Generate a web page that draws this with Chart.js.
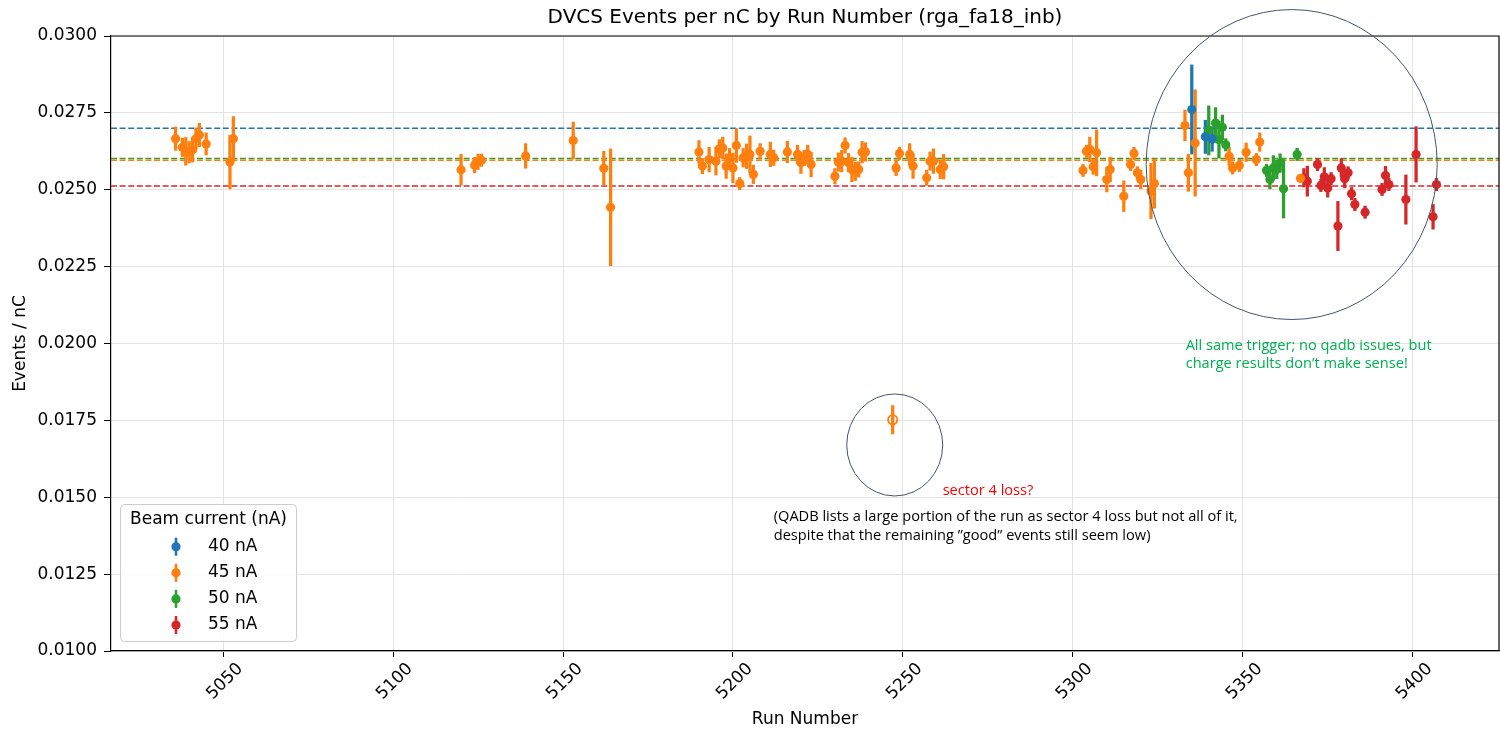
<!DOCTYPE html>
<html>
<head>
<meta charset="utf-8">
<script src="https://cdn.jsdelivr.net/npm/chart.js@4.4.0/dist/chart.umd.min.js"></script>
<style>
	html, body { margin: 0; padding: 0; background: #fff; overflow: hidden; }
	#wrap { width: 1500px; height: 734px; }
	canvas { display: block; }
</style>
</head>
<body>
<div id="wrap"><canvas id="chart" width="1500" height="734"></canvas></div>
<script>
// axis ticks
const xTicks = [5050, 5100, 5150, 5200, 5250, 5300, 5350, 5400];
const yTicks = [0.0100, 0.0125, 0.0150, 0.0175, 0.0200, 0.0225, 0.0250, 0.0275, 0.0300];

const currents = ["40 nA", "45 nA", "50 nA", "55 nA"];
const colors = ["#1f77b4", "#ff7f0e", "#2ca02c", "#d62728"];
const meanValues = [0.02700, 0.02596, 0.02602, 0.02512];

// 40 nA
const runs40 = [5335, 5339, 5341];
const vals40 = [0.02761, 0.02672, 0.02665];
const errs40 = [0.00145, 0.00054, 0.00040];

// 45 nA
const runs45 = [5036, 5038, 5039, 5040, 5041, 5042, 5043, 5045, 5052, 5053,
	5120, 5124, 5125, 5126, 5139, 5153, 5162, 5164,
	5190, 5191, 5193, 5195, 5196, 5197, 5198, 5199, 5200, 5201, 5202, 5203, 5204, 5205, 5206, 5208,
	5211, 5212, 5216, 5219, 5220, 5221, 5222, 5223, 5230, 5231, 5232, 5233, 5234, 5235, 5236, 5237,
	5238, 5239, 5248, 5249, 5252, 5253, 5257, 5258, 5259, 5261, 5262,
	5303, 5304, 5305, 5306, 5307, 5310, 5311, 5315, 5317, 5318, 5319, 5320, 5323, 5324,
	5333, 5334, 5336, 5346, 5347, 5349, 5351, 5354, 5355, 5367];
const vals45 = [0.02666, 0.02638, 0.02625, 0.02622, 0.02630, 0.02666, 0.02678, 0.02649, 0.02590, 0.02666,
	0.02565, 0.02580, 0.02591, 0.02596, 0.02610, 0.02660, 0.02570, 0.02443,
	0.02623, 0.02577, 0.02598, 0.02593, 0.02633, 0.02636, 0.02577, 0.02604, 0.02571, 0.02644, 0.02520, 0.02604, 0.02609, 0.02615, 0.02550, 0.02625,
	0.02615, 0.02604, 0.02623, 0.02615, 0.02588, 0.02604, 0.02615, 0.02582, 0.02544, 0.02590, 0.02593, 0.02644, 0.02588, 0.02566, 0.02560, 0.02566,
	0.02622, 0.02623, 0.02571, 0.02618, 0.02615, 0.02577, 0.02539, 0.02593, 0.02593, 0.02566, 0.02575,
	0.02563, 0.02625, 0.02631, 0.02575, 0.02620, 0.02533, 0.02566, 0.02479, 0.02582, 0.02618, 0.02555, 0.02533, 0.02496, 0.02520,
	0.02709, 0.02555, 0.02652, 0.02609, 0.02571, 0.02579, 0.02622, 0.02598, 0.02655, 0.02537];
const errs45 = [0.00038, 0.00030, 0.00045, 0.00035, 0.00040, 0.00035, 0.00038, 0.00036, 0.00087, 0.00072,
	0.00050, 0.00025, 0.00025, 0.00020, 0.00040, 0.00060, 0.00055, 0.00190,
	0.00037, 0.00025, 0.00040, 0.00045, 0.00030, 0.00035, 0.00040, 0.00030, 0.00048, 0.00055, 0.00020, 0.00030, 0.00040, 0.00060, 0.00030, 0.00025,
	0.00040, 0.00025, 0.00035, 0.00030, 0.00035, 0.00025, 0.00030, 0.00040, 0.00025, 0.00030, 0.00035, 0.00025, 0.00030, 0.00040, 0.00030, 0.00025,
	0.00035, 0.00030, 0.00025, 0.00020, 0.00035, 0.00040, 0.00025, 0.00030, 0.00040, 0.00030, 0.00040,
	0.00020, 0.00020, 0.00040, 0.00025, 0.00075, 0.00040, 0.00040, 0.00050, 0.00020, 0.00020, 0.00020, 0.00030, 0.00090, 0.00080,
	0.00050, 0.00060, 0.00173, 0.00030, 0.00020, 0.00020, 0.00030, 0.00020, 0.00030, 0.00010];

// 50 nA
const runs50 = [5340, 5342, 5343, 5344, 5345, 5357, 5358, 5359, 5360, 5361, 5362, 5366];
const vals50 = [0.02693, 0.02717, 0.02663, 0.02703, 0.02646, 0.02563, 0.02533, 0.02571, 0.02566, 0.02587, 0.02503, 0.02615];
const errs50 = [0.00080, 0.00050, 0.00060, 0.00040, 0.00020, 0.00020, 0.00030, 0.00040, 0.00030, 0.00030, 0.00095, 0.00020];

// 55 nA
const runs55 = [5368, 5369, 5372, 5373, 5374, 5375, 5376, 5378, 5379, 5380, 5381, 5382, 5383, 5386,
	5391, 5392, 5393, 5398, 5401, 5406, 5407];
const vals55 = [0.02539, 0.02528, 0.02582, 0.02514, 0.02542, 0.02506, 0.02536, 0.02382, 0.02571, 0.02536, 0.02555, 0.02487, 0.02452, 0.02427,
	0.02501, 0.02546, 0.02517, 0.02468, 0.02615, 0.02412, 0.02517];
const errs55 = [0.00030, 0.00049, 0.00020, 0.00020, 0.00030, 0.00030, 0.00020, 0.00080, 0.00030, 0.00030, 0.00020, 0.00020, 0.00020, 0.00020,
	0.00020, 0.00030, 0.00020, 0.00080, 0.00090, 0.00040, 0.00020];

// flagged run (open marker)
const flaggedRun = [5247];
const flaggedVal = [0.01752];
const flaggedErr = [0.00046];

const xMin = 5017, xMax = 5425.4;

const series = [
	[runs40, vals40, errs40],
	[runs45, vals45, errs45],
	[runs50, vals50, errs50],
	[runs55, vals55, errs55],
];

const font = "DejaVu Sans";

let datasets = [];
series.map((s, k) => {
	const [runs, vals, errs] = s;
	datasets.push({
		type: "bar",
		data: runs.map((r, i) => ({x: r, y: [vals[i] - errs[i], vals[i] + errs[i]]})),
		backgroundColor: colors[k],
		barThickness: 2.6,
		grouped: false,
		order: 2,
	});
	datasets.push({
		type: "scatter",
		label: currents[k],
		data: runs.map((r, i) => ({x: r, y: vals[i]})),
		backgroundColor: colors[k],
		borderWidth: 0,
		pointRadius: 4.6,
		order: 1,
	});
});

datasets.push({
	type: "bar",
	data: flaggedRun.map((r, i) => ({x: r, y: [flaggedVal[i] - flaggedErr[i], flaggedVal[i] + flaggedErr[i]]})),
	backgroundColor: colors[1],
	barThickness: 2.6,
	grouped: false,
	order: 2,
});
datasets.push({
	type: "scatter",
	data: flaggedRun.map((r, i) => ({x: r, y: flaggedVal[i]})),
	backgroundColor: "rgba(0,0,0,0)",
	borderColor: colors[1],
	borderWidth: 1.8,
	pointRadius: 4.6,
	order: 1,
});

meanValues.map((m, k) => {
	datasets.push({
		type: "line",
		data: [{x: xMin, y: m}, {x: xMax, y: m}],
		borderColor: colors[k],
		borderWidth: 1.5,
		borderDash: [6, 2.6],
		pointRadius: 0,
		order: 3,
	});
});

// circles and notes, anchored in data coordinates
const circles = [
	{x: 5247.6, y: 0.01670, rx: 48, ry: 51},
	{x: 5364.4, y: 0.02582, rx: 145.5, ry: 155},
];
const notes = [
	{x: 5261.7, y: 0.01520, text: "sector 4 loss?", color: "#ff0000"},
	{x: 5212.0, y: 0.01436, text: "(QADB lists a large portion of the run as sector 4 loss but not all of it,", color: "#000000"},
	{x: 5212.0, y: 0.01375, text: "despite that the remaining \u201dgood\u201d events still seem low)", color: "#000000"},
	{x: 5333.2, y: 0.01991, text: "All same trigger; no qadb issues, but", color: "#00b050"},
	{x: 5333.2, y: 0.01933, text: "charge results don\u2019t make sense!", color: "#00b050"},
];

// keep the plot box flush with the right edge (matplotlib axes)
const fixArea = {
	id: "fixArea",
	afterLayout(chart) {
		const area = chart.chartArea, xs = chart.scales.x;
		area.right = chart.width - 1;
		area.width = area.right - area.left;
		xs.right = area.right;
		xs.width = area.width;
		xs.configure();
	}
};

const extras = {
	id: "extras",
	afterDraw(chart) {
		const ctx = chart.ctx, area = chart.chartArea;
		const xs = chart.scales.x, ys = chart.scales.y;
		ctx.save();

		// title over the axes
		ctx.fillStyle = "#000";
		ctx.font = `20px "${font}"`;
		ctx.textAlign = "center";
		ctx.textBaseline = "middle";
		ctx.fillText("DVCS Events per nC by Run Number (rga_fa18_inb)", (area.left + area.right) / 2, 18);

		// top and right spines
		ctx.strokeStyle = "#000";
		ctx.lineWidth = 1.2;
		ctx.beginPath();
		ctx.moveTo(area.left, area.top);
		ctx.lineTo(area.right, area.top);
		ctx.lineTo(area.right, area.bottom);
		ctx.stroke();

		// circles
		ctx.strokeStyle = "#44546a";
		ctx.lineWidth = 1;
		circles.map(c => {
			ctx.beginPath();
			ctx.ellipse(xs.getPixelForValue(c.x), ys.getPixelForValue(c.y), c.rx, c.ry, 0, 0, Math.PI * 2);
			ctx.stroke();
		});

		// notes
		ctx.textAlign = "left";
		ctx.font = `14.6px "Open Sans"`;
		notes.map(n => {
			ctx.fillStyle = n.color;
			ctx.fillText(n.text, xs.getPixelForValue(n.x), ys.getPixelForValue(n.y));
		});

		// legend
		const lx = 120.5, ly = 504.5, lw = 176, lh = 137;
		ctx.beginPath();
		ctx.roundRect(lx, ly, lw, lh, 4);
		ctx.fillStyle = "rgba(255,255,255,0.8)";
		ctx.fill();
		ctx.strokeStyle = "#cccccc";
		ctx.lineWidth = 1;
		ctx.stroke();

		ctx.fillStyle = "#000";
		ctx.font = `17px "${font}"`;
		ctx.textAlign = "center";
		ctx.fillText("Beam current (nA)", lx + lw / 2, 520);
		ctx.textAlign = "left";
		currents.map((c, i) => {
			const y = 546.7 + i * 26.1;
			ctx.strokeStyle = colors[i];
			ctx.lineWidth = 2.6;
			ctx.beginPath();
			ctx.moveTo(176, y - 9);
			ctx.lineTo(176, y + 9);
			ctx.stroke();
			ctx.fillStyle = colors[i];
			ctx.beginPath();
			ctx.arc(176, y, 4.6, 0, Math.PI * 2);
			ctx.fill();
			ctx.fillStyle = "#000";
			ctx.fillText(c, 208, y);
		});
		ctx.restore();
	}
};

const canvas = document.getElementById("chart");
const chart = new Chart(canvas.getContext("2d"), {
	type: "scatter",
	data: {datasets},
	options: {
		responsive: false,
		devicePixelRatio: 1,
		animation: false,
		layout: {padding: {top: 36, right: 1, left: 0, bottom: 0}},
		plugins: {
			legend: {display: false},
			tooltip: {enabled: false},
			title: {display: false},
		},
		scales: {
			x: {
				type: "linear",
				min: xMin,
				max: xMax,
				offset: false,
				afterBuildTicks: s => { s.ticks = xTicks.map(v => ({value: v})); },
				afterFit: s => { s.height = 83; },
				ticks: {
					font: {family: font, size: 17},
					color: "#000",
					minRotation: 45,
					maxRotation: 45,
					padding: 2,
					labelOffset: 17,
					callback: v => String(v),
				},
				grid: {color: "#e3e3e3", tickColor: "#000", tickLength: 6, offset: false},
				border: {color: "#000", width: 1.2},
				title: {display: true, text: "Run Number", color: "#000", font: {family: font, size: 17}, padding: {top: 0, bottom: 4}},
			},
			y: {
				type: "linear",
				min: 0.0100,
				max: 0.0300,
				afterBuildTicks: s => { s.ticks = yTicks.map(v => ({value: v})); },
				afterFit: s => { s.width = 111; },
				ticks: {
					font: {family: font, size: 17},
					color: "#000",
					padding: 7,
					callback: v => v.toFixed(4),
				},
				grid: {color: "#e3e3e3", tickColor: "#000", tickLength: 7},
				border: {color: "#000", width: 1.2},
				title: {display: true, text: "Events / nC", color: "#000", font: {family: font, size: 17}, padding: {top: 10, bottom: 0}},
			},
		},
	},
	plugins: [fixArea, extras],
});
</script>
</body>
</html>
